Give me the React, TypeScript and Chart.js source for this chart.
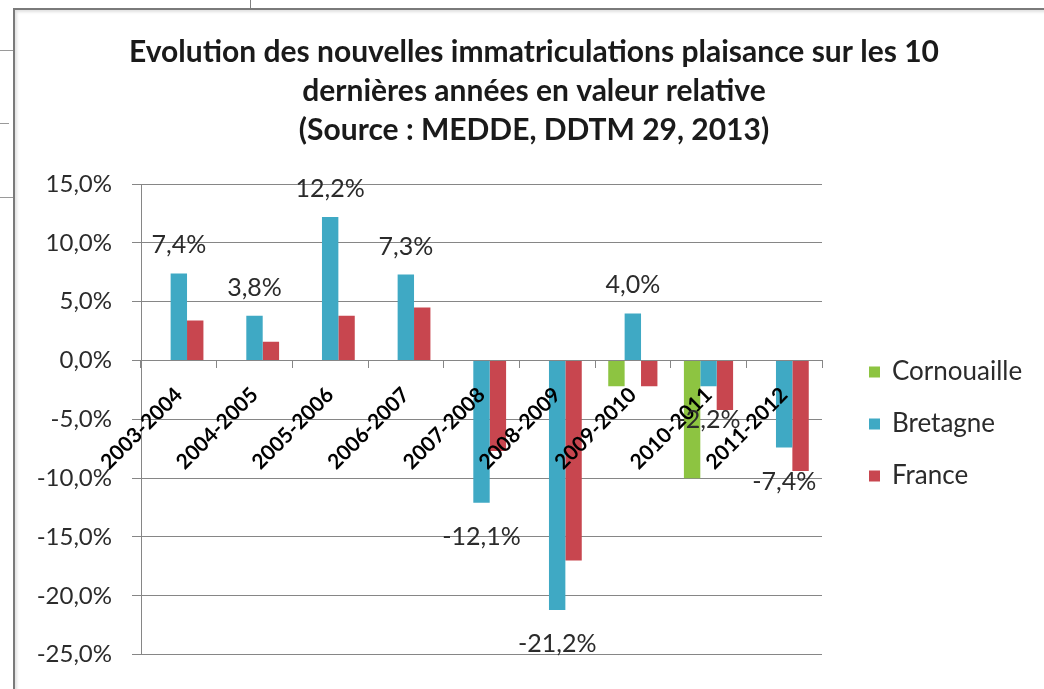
import React, { useEffect, useRef } from "react";
import { Chart, registerables } from "chart.js";

Chart.register(...registerables);

const titleLines = [
  "Evolution des nouvelles immatriculations plaisance sur les 10",
  "dernières années en valeur relative",
  "(Source : MEDDE, DDTM 29, 2013)",
];
const categories = [
  "2003-2004",
  "2004-2005",
  "2005-2006",
  "2006-2007",
  "2007-2008",
  "2008-2009",
  "2009-2010",
  "2010-2011",
  "2011-2012",
];
const seriesNames = ["Cornouaille", "Bretagne", "France"];
const cornouaille = [null, null, null, null, null, null, -2.2, -10.0, null];
const bretagne = [7.4, 3.8, 12.2, 7.3, -12.1, -21.2, 4.0, -2.2, -7.4];
const france = [3.4, 1.6, 3.8, 4.5, -7.7, -17.0, -2.2, -4.2, -9.4];
const yMin = -25;
const yMax = 15;
const yStep = 5;

const colors = ["#8dc441", "#3fa9c4", "#c8464f"];
const textColor = "#2b2b2b";
const axisColor = "#868686";
const FONT = "Lato, 'Open Sans', sans-serif";

const fmt = (v: number) => v.toFixed(1).replace(".", ",") + "%";

const decorPlugin = {
  id: "decor",
  afterDraw(chart: any) {
    const ctx = chart.ctx;
    ctx.save();
    // title
    ctx.fillStyle = "#1a1a1a";
    ctx.font = `bold 30px ${FONT}`;
    ctx.textAlign = "center";
    ctx.textBaseline = "middle";
    const ty = [52, 91, 130];
    titleLines.forEach((t, i) => ctx.fillText(t, 534, ty[i]));

    // data labels for Bretagne
    const meta = chart.getDatasetMeta(1);
    ctx.font = `25px ${FONT}`;
    ctx.fillStyle = textColor;
    meta.data.forEach((el: any, i: number) => {
      const v = bretagne[i];
      if (v === null || v === undefined) return;
      const y = v >= 0 ? el.y - 28 : el.y + 34;
      ctx.fillText(fmt(v), el.x, y);
    });

    // legend
    const ly = [372, 424, 476];
    ctx.textAlign = "left";
    ctx.font = `26px ${FONT}`;
    seriesNames.forEach((n, i) => {
      ctx.fillStyle = colors[i];
      ctx.fillRect(869, ly[i] - 5.5, 11, 11);
      ctx.fillStyle = textColor;
      ctx.fillText(n, 892, ly[i]);
    });
    ctx.restore();
  },
};

export default function App() {
  const ref = useRef<HTMLCanvasElement | null>(null);
  useEffect(() => {
    if (!ref.current) return;
    const chart = new Chart(ref.current, {
      type: "bar",
      data: {
        labels: categories,
        datasets: [
          { label: seriesNames[0], data: cornouaille as any, backgroundColor: colors[0] },
          { label: seriesNames[1], data: bretagne, backgroundColor: colors[1] },
          { label: seriesNames[2], data: france, backgroundColor: colors[2] },
        ],
      },
      options: {
        responsive: false,
        animation: false,
        layout: {
          autoPadding: false,
          padding: { left: 24, right: 222, top: 184, bottom: 27 },
        },
        datasets: {
          bar: { categoryPercentage: 0.65, barPercentage: 1.0 },
        },
        plugins: {
          legend: { display: false },
          title: { display: false },
          tooltip: { enabled: false },
        },
        scales: {
          x: {
            position: { y: 0 } as any,
            grid: {
              drawOnChartArea: false,
              drawTicks: true,
              tickLength: 7,
              color: axisColor,
              offset: true,
            },
            border: { display: true, color: axisColor, width: 1 },
            ticks: {
              z: 1,
              autoSkip: false,
              maxRotation: 45,
              minRotation: 45,
              padding: 15,
              color: "#000",
              font: { family: FONT, size: 21, weight: "bold" },
            },
          },
          y: {
            min: yMin,
            max: yMax,
            afterFit: (s: any) => {
              s.width = 117;
            },
            ticks: {
              stepSize: yStep,
              padding: 20,
              color: textColor,
              font: { family: FONT, size: 24 },
              callback: (v: any) => fmt(Number(v)),
            },
            grid: { color: axisColor, tickLength: 9, lineWidth: 1 },
            border: { display: true, color: axisColor, width: 1 },
          },
        },
      },
      plugins: [decorPlugin],
    });
    return () => chart.destroy();
  }, []);

  return (
    <div
      style={{
        position: "absolute",
        left: 0,
        top: 0,
        width: 1044,
        height: 689,
        overflow: "hidden",
        background: "#fff",
      }}
    >
      <div style={{ position: "absolute", left: 250, top: 0, width: 1, height: 9, background: "#808080" }} />
      <div style={{ position: "absolute", left: 0, top: 50, width: 13, height: 1, background: "#9a9a9a" }} />
      <div style={{ position: "absolute", left: 0, top: 123, width: 9, height: 1, background: "#9a9a9a" }} />
      <div style={{ position: "absolute", left: 0, top: 197, width: 13, height: 1, background: "#9a9a9a" }} />
      <div
        style={{
          position: "absolute",
          left: 13,
          top: 8,
          width: 1100,
          height: 800,
          borderLeft: "2px solid #7a7a7a",
          borderTop: "2px solid #7a7a7a",
          boxShadow: "inset 2px 2px 3px rgba(0,0,0,0.12)",
        }}
      />
      <canvas
        ref={ref}
        width={1044}
        height={689}
        style={{ position: "absolute", left: 0, top: 0, width: 1044, height: 689 }}
      />
    </div>
  );
}
